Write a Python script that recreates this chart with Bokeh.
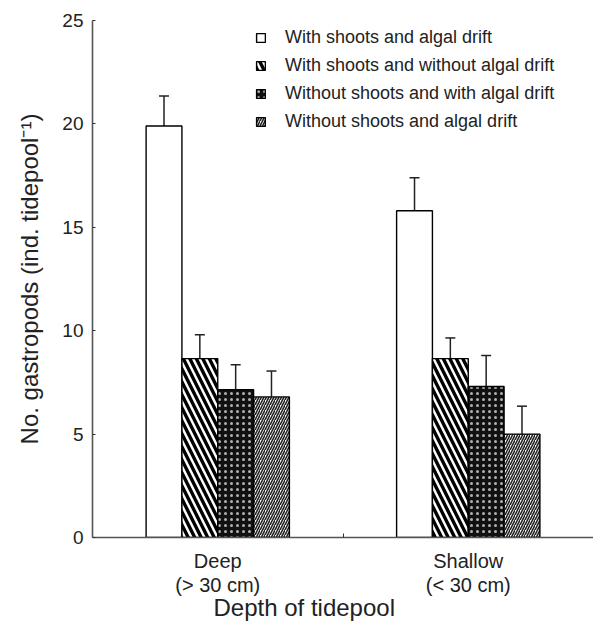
from bokeh.plotting import figure
from bokeh.models import ColumnDataSource, Whisker, FixedTicker, Range1d, Title
from bokeh.embed import file_html
from bokeh.resources import INLINE

# ---- data ----
categories = ["Deep\n(> 30 cm)", "Shallow\n(< 30 cm)"]
series_names = [
    "With shoots and algal drift",
    "With shoots and without algal drift",
    "Without shoots and with algal drift",
    "Without shoots and algal drift",
]
shoots_drift = [19.9, 15.8]
shoots_nodrift = [8.65, 8.65]
noshoots_drift = [7.15, 7.3]
noshoots_nodrift = [6.8, 5.0]
err_shoots_drift = [1.45, 1.6]
err_shoots_nodrift = [1.15, 1.0]
err_noshoots_drift = [1.2, 1.5]
err_noshoots_nodrift = [1.25, 1.35]
y_ticks = [0, 5, 10, 15, 20, 25]
x_title = "Depth of tidepool"
y_title = "No. gastropods (ind. tidepool\u207b\u00b9)"

values = [shoots_drift, shoots_nodrift, noshoots_drift, noshoots_nodrift]
errors = [err_shoots_drift, err_shoots_nodrift, err_noshoots_drift, err_noshoots_nodrift]

# ---- styles ----
offsets = [-0.2145, -0.0715, 0.0715, 0.2145]
bar_w = 0.143
styles = [
    dict(fill_color="white", hatch_pattern=" ", hatch_color="black"),
    dict(fill_color="white", hatch_pattern="\\", hatch_color="black", hatch_scale=13, hatch_weight=3.4),
    dict(fill_color="#111111", hatch_pattern="dot", hatch_color="#b0b0b0", hatch_scale=6, hatch_weight=0.1),
    dict(fill_color="white", hatch_pattern="/", hatch_color="#222222", hatch_scale=5, hatch_weight=1.6),
]
FONT = "Liberation Sans"

p = figure(width=593, height=627, x_range=Range1d(0, 2), y_range=Range1d(0, 25),
           output_backend="svg", toolbar_location=None,
           min_border_left=92, min_border_right=0, min_border_top=20, min_border_bottom=90)
p.outline_line_color = None
p.xgrid.grid_line_color = None
p.ygrid.grid_line_color = None
p.background_fill_color = "white"
p.border_fill_color = "white"

for k in range(4):
    xs = [i + 0.5 + offsets[k] for i in range(len(categories))]
    src = ColumnDataSource(dict(x=xs, top=values[k],
                                upper=[v + e for v, e in zip(values[k], errors[k])],
                                lower=values[k]))
    p.vbar(x="x", top="top", bottom=0, width=bar_w, source=src,
           line_color="black", line_width=1.4, legend_label=series_names[k], **styles[k])
    w = Whisker(base="x", upper="upper", lower="lower", source=src,
                line_color="#222222", line_width=1.5, lower_head=None)
    w.upper_head.size = 10
    w.upper_head.line_width = 1.5
    w.upper_head.line_color = "#222222"
    p.add_layout(w)

# y axis
p.yaxis.ticker = FixedTicker(ticks=y_ticks)
p.yaxis.axis_label = y_title
p.yaxis.axis_label_text_font = FONT
p.yaxis.axis_label_text_font_size = "24px"
p.yaxis.axis_label_text_font_style = "normal"
p.yaxis.axis_label_text_color = "#222222"
p.yaxis.axis_label_standoff = 16
p.yaxis.major_label_text_font = FONT
p.yaxis.major_label_text_font_size = "19px"
p.yaxis.major_label_text_color = "#222222"
p.yaxis.major_label_standoff = 9
p.yaxis.major_tick_in = 3
p.yaxis.major_tick_out = 0
p.yaxis.minor_tick_line_color = None
p.yaxis.axis_line_color = "#555555"
p.yaxis.axis_line_width = 1.6
p.yaxis.major_tick_line_color = "#333333"

# x axis
p.xaxis.ticker = FixedTicker(ticks=[i + 0.5 for i in range(len(categories))],
                             minor_ticks=[float(i) for i in range(1, len(categories))])
p.xaxis.major_label_overrides = {i + 0.5: c for i, c in enumerate(categories)}
p.xaxis.major_tick_in = 0
p.xaxis.major_tick_out = 0
p.xaxis.minor_tick_in = 4
p.xaxis.minor_tick_out = 0
p.xaxis.minor_tick_line_color = "#333333"
p.xaxis.axis_line_color = "#555555"
p.xaxis.axis_line_width = 1.6
p.xaxis.major_label_text_font = FONT
p.xaxis.major_label_text_font_size = "20px"
p.xaxis.major_label_text_line_height = 1.1
p.xaxis.major_label_text_color = "#222222"
p.xaxis.major_label_standoff = 12

# x title placed as in the reference (left part of the page)
p.add_layout(Title(text=x_title, align="left", offset=121, standoff=-14,
                   text_font=FONT, text_font_size="24px", text_font_style="normal",
                   text_color="#222222"), "below")

# legend
lg = p.legend[0]
lg.location = (163, 405)
lg.border_line_color = None
lg.background_fill_alpha = 0
lg.label_text_font = FONT
lg.label_text_font_size = "18px"
lg.label_text_color = "#222222"
lg.glyph_width = 11
lg.glyph_height = 11
lg.label_height = 22
lg.label_standoff = 19
lg.spacing = 6
lg.padding = 5
lg.margin = 0

open("out.html", "w").write(file_html(p, INLINE))
